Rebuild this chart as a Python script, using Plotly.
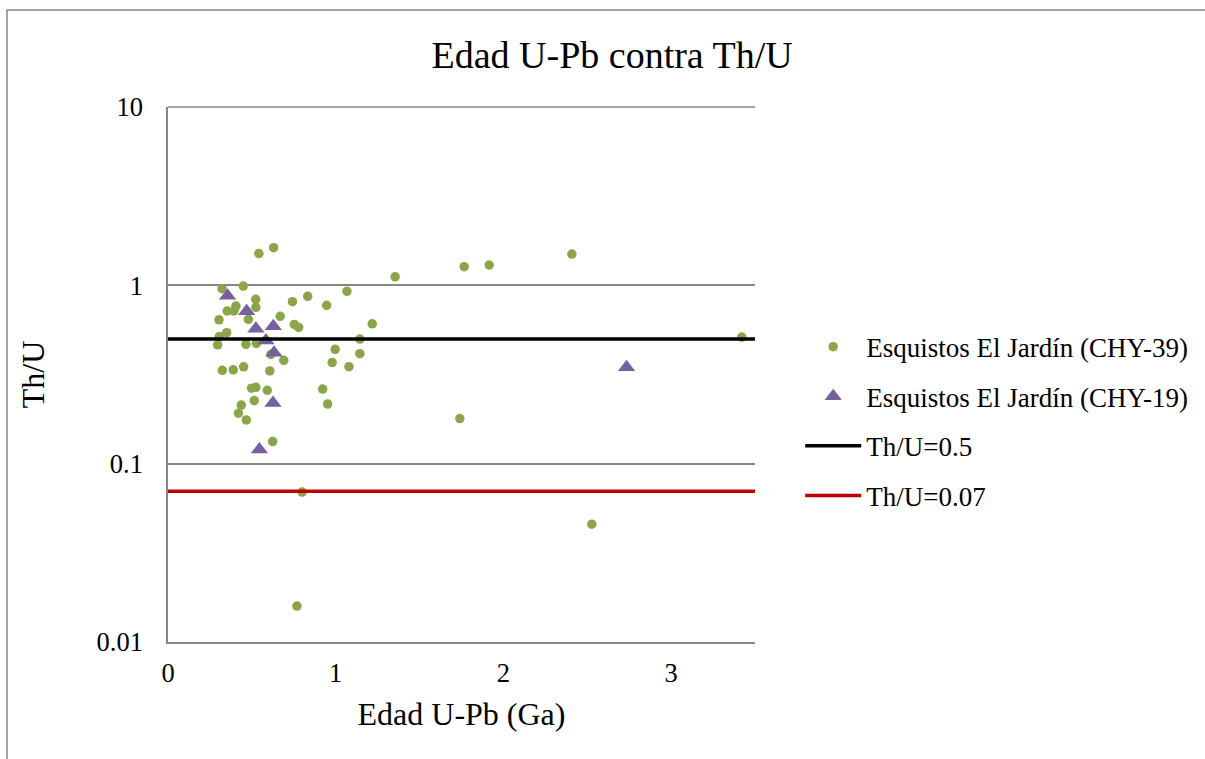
import plotly.graph_objects as go

# CHY-39 (green circles): age (Ga), Th/U
chy39_age = [0.322, 0.449, 0.542, 0.630, 0.523, 0.742, 0.833, 0.524, 0.353, 0.393,
             0.405, 0.479, 0.304, 0.669, 0.753, 0.779, 0.350, 0.306, 0.296, 0.465,
             0.527, 0.614, 0.690, 0.324, 0.389, 0.451, 0.607, 0.498, 0.524, 0.592,
             0.514, 0.437, 0.420, 0.467, 0.624, 0.946, 1.067, 1.218, 1.144, 0.997,
             1.144, 0.979, 1.079, 0.922, 0.952, 1.354, 1.766, 1.915, 2.408, 3.421,
             1.740, 2.527, 0.800, 0.769]
chy39_thu = [0.958, 0.991, 1.506, 1.627, 0.835, 0.810, 0.868, 0.753, 0.718, 0.718,
             0.765, 0.645, 0.641, 0.670, 0.604, 0.581, 0.543, 0.516, 0.464, 0.467,
             0.472, 0.410, 0.380, 0.334, 0.336, 0.349, 0.331, 0.265, 0.268, 0.258,
             0.226, 0.213, 0.192, 0.176, 0.133, 0.772, 0.925, 0.608, 0.500, 0.438,
             0.414, 0.369, 0.350, 0.262, 0.216, 1.116, 1.273, 1.300, 1.498, 0.513,
             0.179, 0.0458, 0.0693, 0.0159]

# CHY-19 (purple triangles)
chy19_age = [0.355, 0.469, 0.524, 0.628, 0.584, 0.632, 0.626, 0.545, 2.734]
chy19_thu = [0.874, 0.715, 0.571, 0.589, 0.491, 0.419, 0.219, 0.120, 0.347]

# Reference lines
ref_x = [0, 3.5]
ref_05 = [0.5, 0.5]
ref_007 = [0.07, 0.07]

x_ticks = [0, 1, 2, 3]
y_ticks = [0.01, 0.1, 1, 10]
y_ticklabels = ["0.01", "0.1", "1", "10"]

FONT = "Liberation Serif, Times New Roman, serif"
GREY = "#868686"

fig = go.Figure()
fig.add_trace(go.Scatter(x=chy39_age, y=chy39_thu, mode="markers",
                         name="Esquistos El Jardín (CHY-39)", legendgroup="a",
                         marker=dict(symbol="circle", size=9.5, color="#8BA648")))
fig.add_trace(go.Scatter(x=chy19_age, y=chy19_thu, mode="markers",
                         name="Esquistos El Jardín (CHY-19)", legendgroup="b",
                         marker=dict(symbol="triangle-up", size=15, color="#77609F")))
fig.add_trace(go.Scatter(x=ref_x, y=ref_05, mode="lines", name="Th/U=0.5",
                         legendgroup="c", line=dict(color="black", width=3.5)))
fig.add_trace(go.Scatter(x=ref_x, y=ref_007, mode="lines", name="Th/U=0.07",
                         legendgroup="d", line=dict(color="#C00000", width=3.5)))

fig.update_layout(
    width=1205, height=759,
    margin=dict(l=168, r=450, t=107, b=117, autoexpand=False),
    paper_bgcolor="white", plot_bgcolor="white",
    font=dict(family=FONT, color="black", size=26),
    title=dict(text="Edad U-Pb contra Th/U", x=0.508, xref="container", xanchor="center",
               y=1 - 55 / 759, yref="container", yanchor="middle",
               font=dict(size=38, family=FONT, color="black")),
    xaxis=dict(range=[0, 3.5], tickvals=x_ticks, showgrid=False, zeroline=False,
               showline=True, linecolor=GREY, linewidth=1.5, ticks="",
               tickfont=dict(size=26.5), ticklabelstandoff=6,
               title=dict(text="Edad U-Pb (Ga)", font=dict(size=32), standoff=16)),
    yaxis=dict(type="log", range=[-2, 1], tickvals=y_ticks, ticktext=y_ticklabels,
               showgrid=True, gridcolor=GREY, gridwidth=1.5, zeroline=False,
               showline=True, linecolor=GREY, linewidth=1.5, ticks="",
               tickfont=dict(size=26.5), ticklabelstandoff=18,
               title=dict(text="Th/U", font=dict(size=32), standoff=42)),
    legend=dict(x=1.077, xanchor="left", y=0.597, yanchor="top",
                font=dict(size=27, family=FONT), tracegroupgap=11.5,
                itemwidth=56, bgcolor="rgba(0,0,0,0)"),
    showlegend=True,
)

# top gridline at 10
fig.add_shape(type="line", xref="paper", yref="paper", x0=0, x1=1, y0=1, y1=1,
              line=dict(color=GREY, width=1.5))
# outer chart border
fig.add_shape(type="rect", xref="paper", yref="paper",
              x0=(7 - 168) / 587, x1=(1215 - 168) / 587,
              y0=(642 - 770) / 535, y1=1 + (107 - 10) / 535,
              line=dict(color=GREY, width=1.5), layer="below")

fig.write_html("out.html")
